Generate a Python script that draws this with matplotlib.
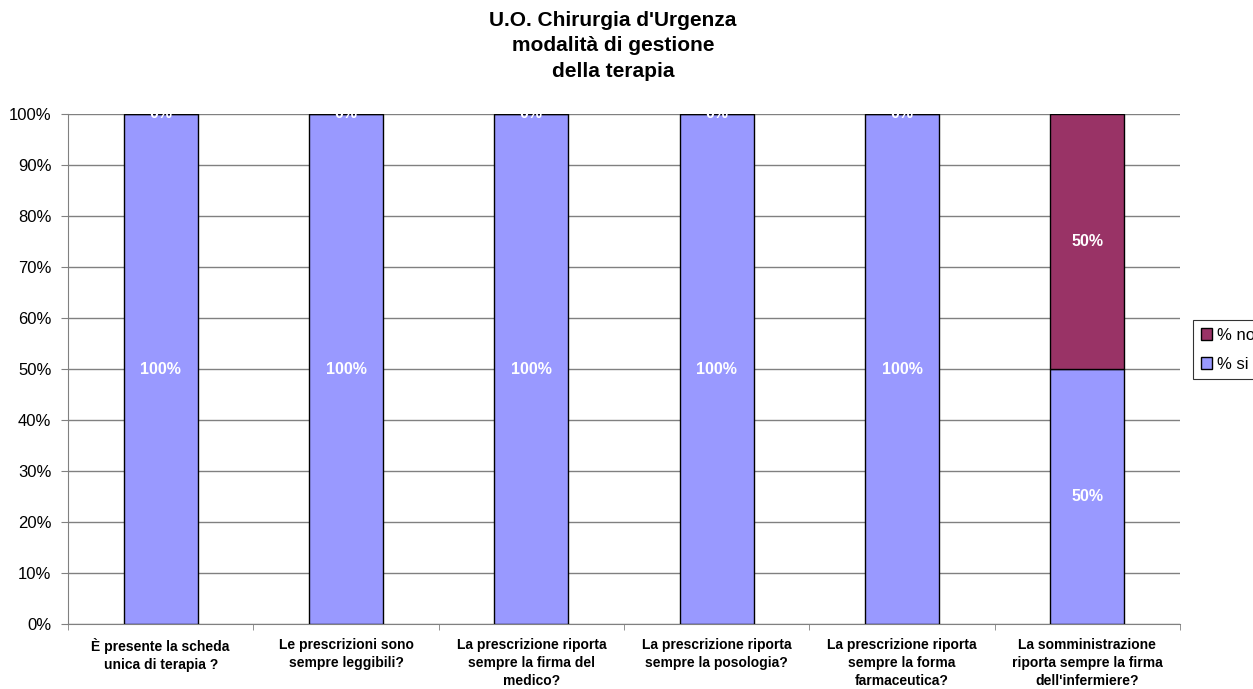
import matplotlib
matplotlib.use("Agg")
import matplotlib.pyplot as plt
import numpy as np

plt.rcParams['font.family'] = ['Liberation Sans', 'DejaVu Sans']

categories = ["È presente la scheda\nunica di terapia ?",
              "Le prescrizioni sono\nsempre leggibili?",
              "La prescrizione riporta\nsempre la firma del\nmedico?",
              "La prescrizione riporta\nsempre la posologia?",
              "La prescrizione riporta\nsempre la forma\nfarmaceutica?",
              "La somministrazione\nriporta sempre la firma\ndell'infermiere?"]
si_vals = [100, 100, 100, 100, 100, 50]
no_vals = [0, 0, 0, 0, 0, 50]
yticks = [0, 10, 20, 30, 40, 50, 60, 70, 80, 90, 100]
title = "U.O. Chirurgia d'Urgenza\nmodalità di gestione\ndella terapia"

fig = plt.figure(figsize=(12.53, 6.89), dpi=100)
ax = fig.add_axes([68/1253, 65/689, (1180-68)/1253, (624-114)/689])

x = np.arange(len(categories))
w = 0.4
b1 = ax.bar(x, si_vals, w, color='#9999FF', edgecolor='black', linewidth=1, label='% si', zorder=3)
b2 = ax.bar(x, no_vals, w, bottom=si_vals, color='#993366', edgecolor='black', linewidth=1, label='% no', zorder=3)

for i in range(len(categories)):
    ax.text(x[i], si_vals[i] / 2, f"{si_vals[i]}%", ha='center', va='center', color='white',
            fontsize=11.5, fontweight='bold', zorder=4, clip_on=True)
    ax.text(x[i], si_vals[i] + no_vals[i] / 2, f"{no_vals[i]}%", ha='center', va='center', color='white',
            fontsize=11.5, fontweight='bold', zorder=4, clip_on=True)

ax.set_xlim(-0.5, len(categories) - 0.5)
ax.set_ylim(0, 100)
ax.set_yticks(yticks)
ax.set_yticklabels([f"{t}%" for t in yticks], fontsize=12)
ax.yaxis.grid(True, color='#808080', linewidth=1, zorder=0)
ax.set_axisbelow(True)
ax.set_xticks(x)
ax.set_xticklabels(categories, fontsize=10, fontweight='bold', linespacing=1.38)
ax.tick_params(axis='x', length=0, pad=10)
ax.set_xticks(np.arange(-0.5, len(categories)), minor=True)
ax.tick_params(axis='x', which='minor', length=4, direction='out', color='#808080')
ax.tick_params(axis='y', length=5, direction='out', color='#808080', pad=7)
for s in ['top', 'right']:
    ax.spines[s].set_visible(False)
ax.spines['left'].set_color('#808080')
ax.spines['bottom'].set_color('#808080')

fig.text(613/1253, 1 - 11/689, title, ha='center', va='top', fontsize=15, fontweight='bold', linespacing=1.42)

handles = [b2, b1]
leg = fig.legend(handles, ['% no', '% si'], loc='upper left', bbox_to_anchor=(1193/1253, 1 - 320/689),
                 fontsize=12, frameon=True, fancybox=False, edgecolor='black', handlelength=0.7,
                 handleheight=0.7, handletextpad=0.3, borderpad=0.45, labelspacing=0.85, borderaxespad=0)
leg.get_frame().set_linewidth(0.8)

fig.savefig("out.png", dpi=100)
